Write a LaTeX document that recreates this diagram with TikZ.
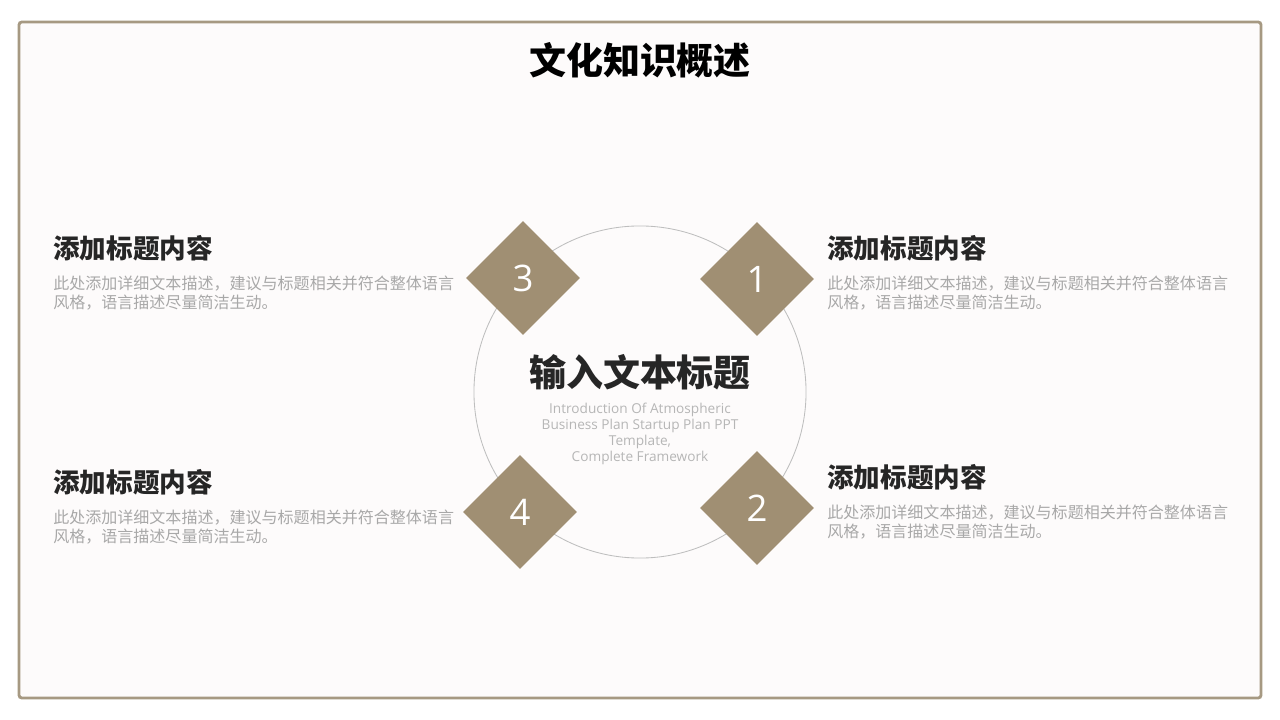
\documentclass[tikz,border=0pt]{standalone}
\usepackage{fontspec}
\setmainfont{Open Sans}
\newfontfamily\cjk{Noto Sans CJK SC}
\usepackage{xcolor}
\usetikzlibrary{positioning}
\usetikzlibrary{shapes.geometric}

\definecolor{taupe}{RGB}{160,143,115}
\definecolor{frame}{RGB}{166,153,130}
\definecolor{paper}{RGB}{253,251,251}
\definecolor{bodygray}{RGB}{168,168,168}
\definecolor{subgray}{RGB}{182,182,182}
\definecolor{ringgray}{RGB}{190,190,190}

\begin{document}
\begin{tikzpicture}[
        x=0.025cm, y=-0.025cm,
        tile/.style = {
        diamond, fill=taupe, draw=none, inner sep=0pt,
        minimum width=2.85cm, minimum height=2.85cm,
        text=white, font=\fontsize{26}{26}\selectfont
        },
        head/.style = {
        anchor=west, inner sep=0pt, text=black!85,
        font=\cjk\bfseries\fontsize{18.9}{22}\selectfont
        },
        blurb/.style = {
        anchor=north west, inner sep=0pt, align=left, text=bodygray,
        font=\cjk\fontsize{11.4}{13.5}\selectfont
        }
        ]
    \useasboundingbox (0,0) rectangle (1280,720);
    \fill[white] (0,0) rectangle (1280,720);
    \draw[frame, line width=2pt, fill=paper, rounded corners=2pt] (19,22) rectangle (1261,698);
    \node[inner sep=0pt, font=\cjk\bfseries\fontsize{26.3}{30}\selectfont] (title) at (640,60) {文化知识概述};

    % ring and centre text
    \node[circle, draw=ringgray, line width=0.6pt, minimum size=8.3cm, inner sep=0pt] (ring) at (640,392) {};
    \node[inner sep=0pt, text=black!85, font=\cjk\bfseries\fontsize{26.3}{30}\selectfont] (main) at (640,372) {输入文本标题};
    \node[below=9pt of main, inner sep=0pt, align=center, text=subgray,
        font=\fontsize{9.7}{11.4}\selectfont] (sub)
        {Introduction Of Atmospheric\\Business Plan Startup Plan PPT\\Template,\\Complete Framework};

    % diamonds
    \node[tile] (d3) at (523,278) {3};
    \node[tile] (d1) at (757,279) {1};
    \node[tile] (d4) at (520,512) {4};
    \node[tile] (d2) at (757,508) {2};

    % text blocks
    \node[head] (h3) at (53,248) {添加标题内容};
    \node[blurb, below=10pt of h3.south west, anchor=north west] (b3)
        {此处添加详细文本描述，建议与标题相关并符合整体语言\\风格，语言描述尽量简洁生动。};
    \node[head] (h1) at (827,248) {添加标题内容};
    \node[blurb, below=10pt of h1.south west, anchor=north west] (b1)
        {此处添加详细文本描述，建议与标题相关并符合整体语言\\风格，语言描述尽量简洁生动。};
    \node[head] (h4) at (53,482) {添加标题内容};
    \node[blurb, below=10pt of h4.south west, anchor=north west] (b4)
        {此处添加详细文本描述，建议与标题相关并符合整体语言\\风格，语言描述尽量简洁生动。};
    \node[head] (h2) at (827,477) {添加标题内容};
    \node[blurb, below=10pt of h2.south west, anchor=north west] (b2)
        {此处添加详细文本描述，建议与标题相关并符合整体语言\\风格，语言描述尽量简洁生动。};
\end{tikzpicture}
\end{document}
